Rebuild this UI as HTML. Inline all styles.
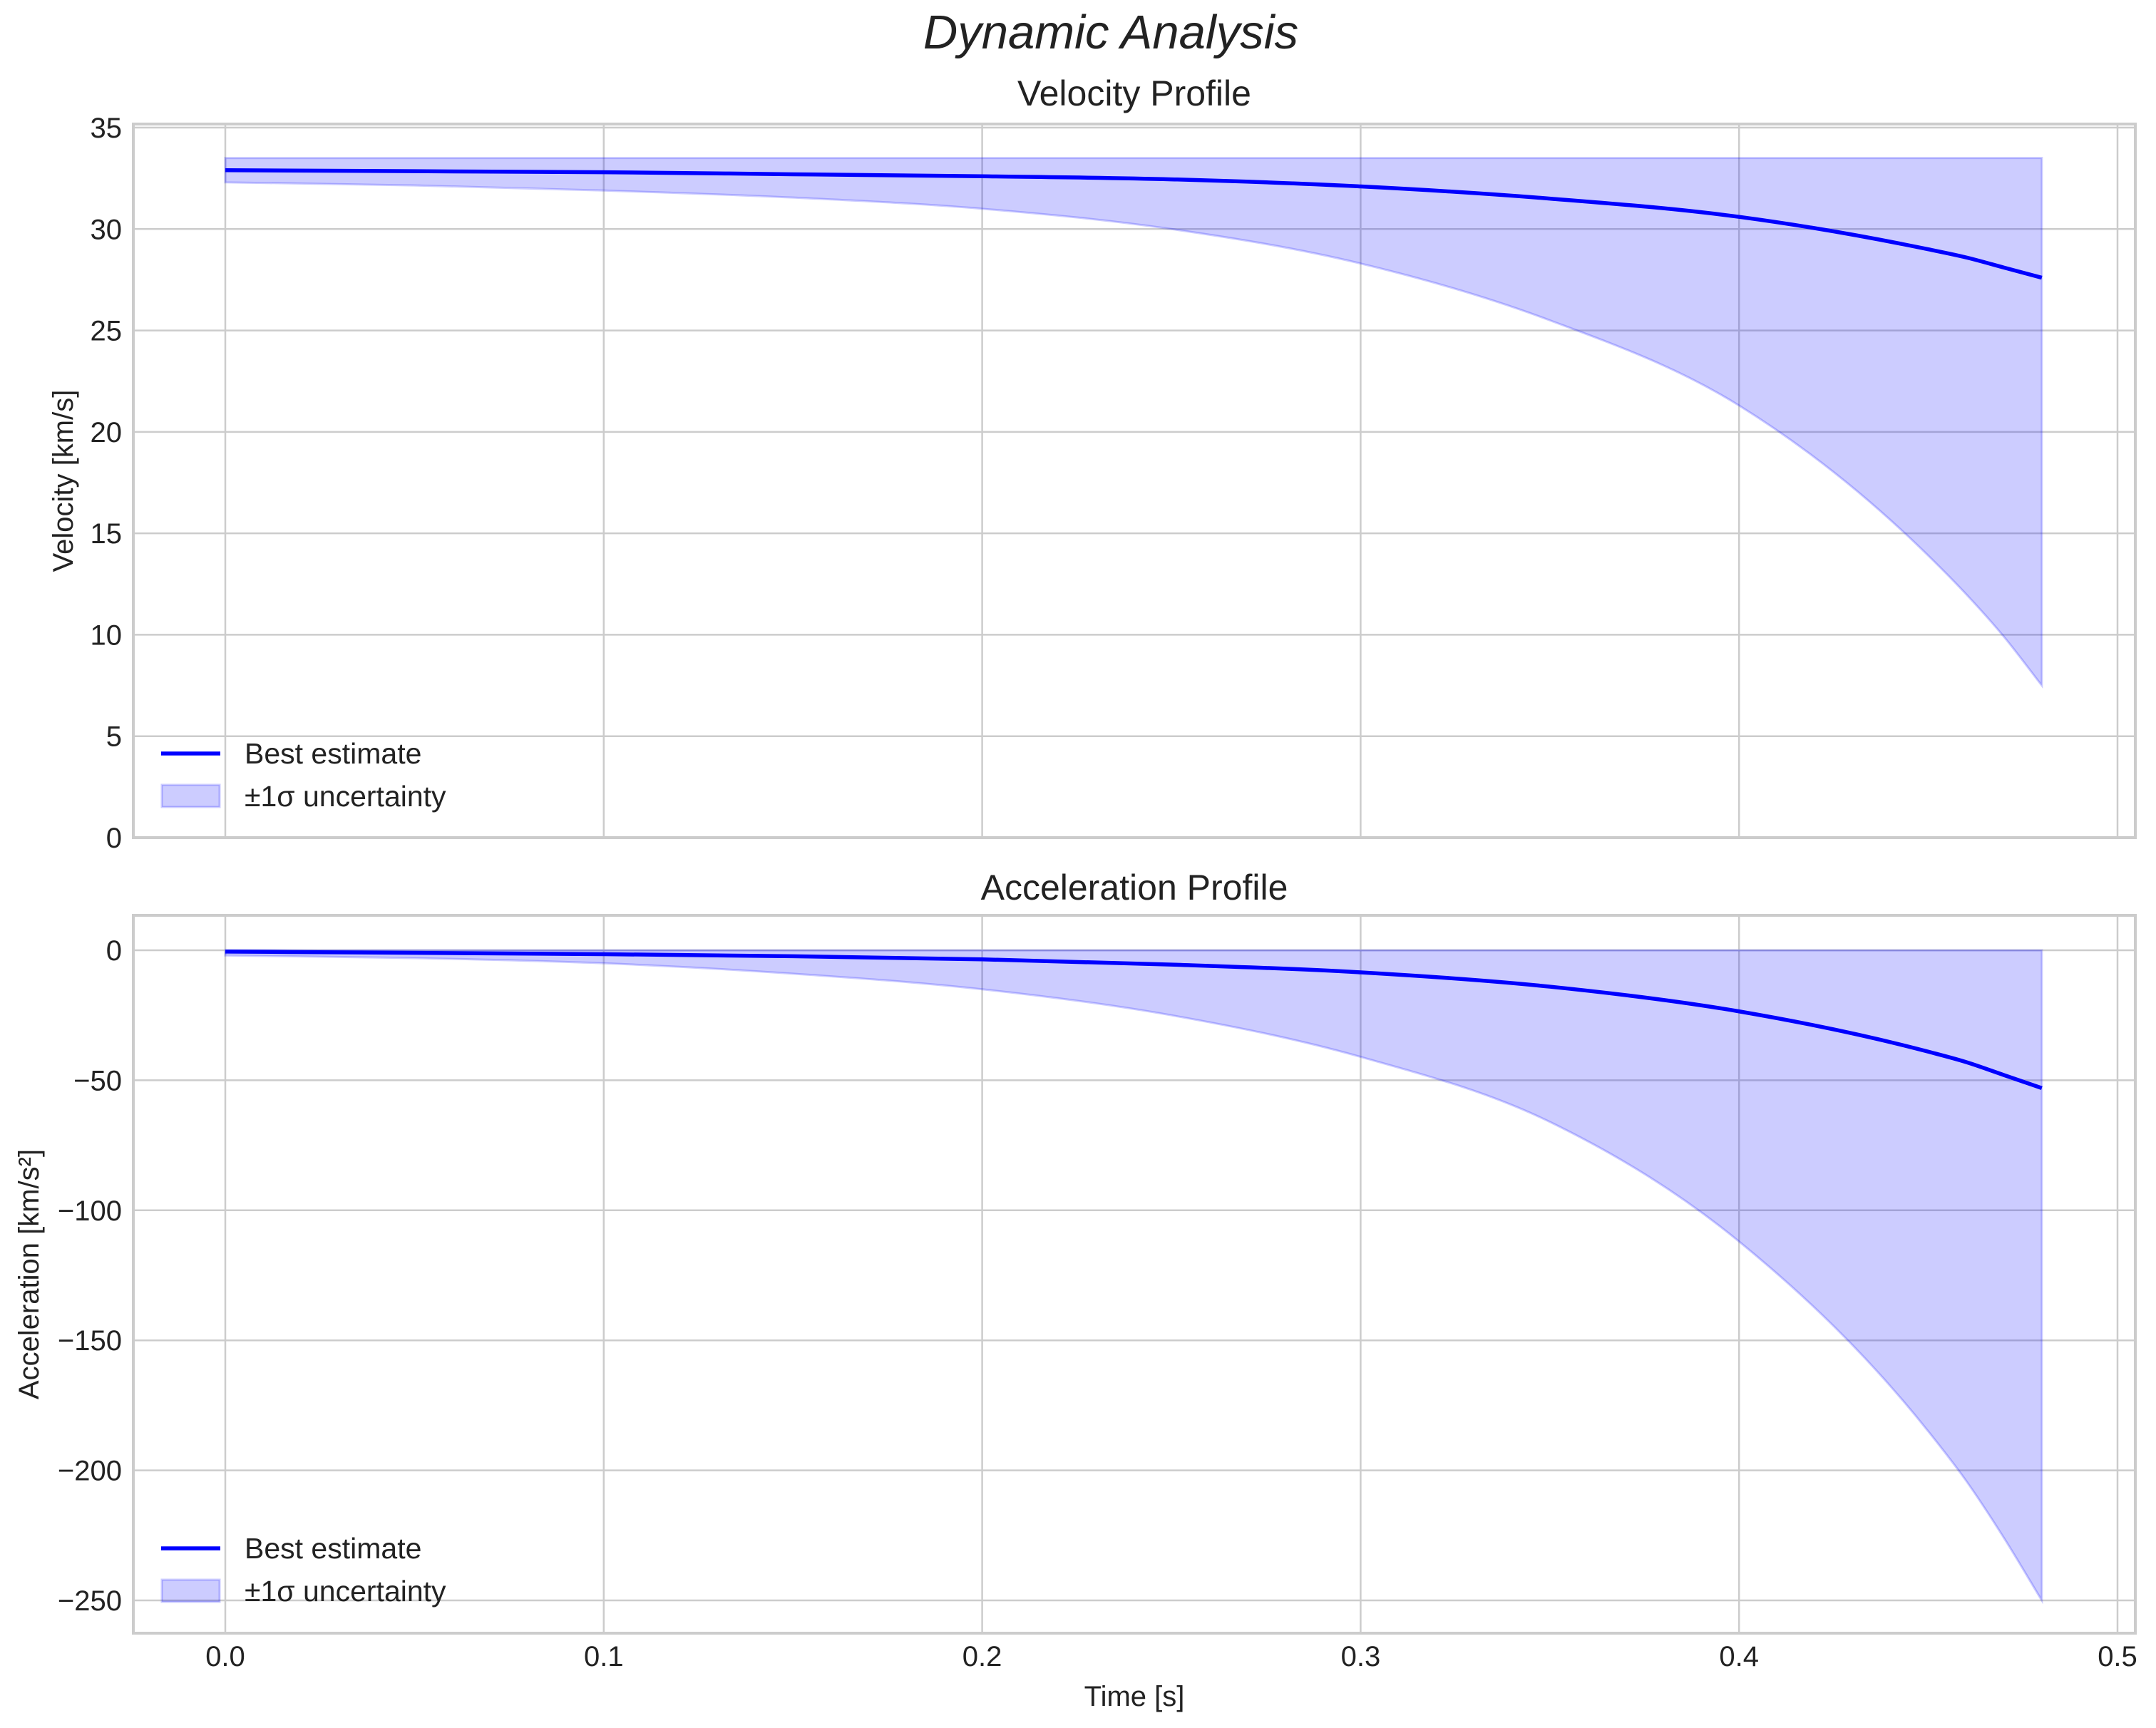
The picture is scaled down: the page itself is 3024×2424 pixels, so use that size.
<!DOCTYPE html>
<html><head><meta charset="utf-8"><style>
html,body{margin:0;padding:0;background:#fff;}
svg{display:block;font-family:"Liberation Sans",Arial,sans-serif;}
</style></head><body>
<svg id="chart" width="3024" height="2424" viewBox="0 0 3024 2424" xmlns="http://www.w3.org/2000/svg">
<rect width="3024" height="2424" fill="#fff"/>
<text x="1558" y="68" font-size="67" font-style="italic" text-anchor="middle" fill="#222">Dynamic Analysis</text>
<g id="top"></g>
<g id="bot"></g>
</svg>
<script>
const times = [0,0.05,0.1,0.15,0.2,0.25,0.3,0.35,0.4,0.45,0.46,0.47,0.48];
const velBest = [32.9,32.85,32.8,32.7,32.6,32.45,32.1,31.5,30.6,29.0,28.6,28.1,27.6];
const velLower = [32.3,32.15,31.9,31.55,31.0,30.0,28.3,25.5,21.3,13.9,12.0,9.9,7.5];
const velUpper = [33.5,33.5,33.5,33.5,33.5,33.5,33.5,33.5,33.5,33.5,33.5,33.5,33.5];
const accBest = [-0.5,-1,-1.5,-2.3,-3.5,-5.5,-8.5,-14,-23.5,-39,-43,-48,-53];
const accLower = [-2,-3,-5,-9,-15,-25,-41,-66,-112,-185,-204,-226,-250];
const accUpper = [0,0,0,0,0,0,0,0,0,0,0,0,0];
const xTicks = [0,0.1,0.2,0.3,0.4,0.5];
const xTickLabels = ["0.0","0.1","0.2","0.3","0.4","0.5"];
const velTicks = [0,5,10,15,20,25,30,35];
const accTicks = [0,-50,-100,-150,-200,-250];
const accTickLabels = ["0","\u221250","\u2212100","\u2212150","\u2212200","\u2212250"];

const NS="http://www.w3.org/2000/svg";
const L=187,R=2995;
const X=t=>316+(t/0.1)*530.8;
function mk(parent,tag,attrs){const e=document.createElementNS(NS,tag);for(const k in attrs)e.setAttribute(k,attrs[k]);parent.appendChild(e);return e;}
function smooth(pts,cont){
 const n=pts.length,m=[];
 for(let i=0;i<n;i++){
  if(i===0) m.push((pts[1][1]-pts[0][1])/(pts[1][0]-pts[0][0]));
  else if(i===n-1) m.push((pts[n-1][1]-pts[n-2][1])/(pts[n-1][0]-pts[n-2][0]));
  else {const a=(pts[i][1]-pts[i-1][1])/(pts[i][0]-pts[i-1][0]),b=(pts[i+1][1]-pts[i][1])/(pts[i+1][0]-pts[i][0]);
   const ha=Math.abs(pts[i][0]-pts[i-1][0]),hb=Math.abs(pts[i+1][0]-pts[i][0]);
   m.push((a*hb+b*ha)/(ha+hb));}
 }
 let d=cont?"":"M"+pts[0][0]+","+pts[0][1];
 for(let i=0;i<n-1;i++){const h=(pts[i+1][0]-pts[i][0])/3;
  d+=" C"+(pts[i][0]+h)+","+(pts[i][1]+m[i]*h)+" "+(pts[i+1][0]-h)+","+(pts[i+1][1]-m[i+1]*h)+" "+pts[i+1][0]+","+pts[i+1][1];}
 return d;}
function panel(g,top,bottom,Y,ticks,labels,best,lower,upper,title,titleY,ylabel,ylx,legY,showX){
 const gridC="#cccccc";
 ticks.forEach((v,i)=>{const y=Y(v);
  const gl=mk(g,"line",{x1:L,x2:R,y1:y,y2:y,stroke:gridC,"stroke-width":2.5});
  
  
  const tl=mk(g,"text",{x:L-16,y:y+14,"font-size":40,"text-anchor":"end",fill:"#222"});
  tl.textContent=labels[i];
  
  
 });
 xTicks.forEach((v,i)=>{const x=X(v);
  const gl=mk(g,"line",{x1:x,x2:x,y1:top,y2:bottom,stroke:gridC,"stroke-width":2.5});
  
  
  if(showX){const tl=mk(g,"text",{x:x,y:2337,"font-size":40,"text-anchor":"middle",fill:"#222"});
   tl.textContent=xTickLabels[i];
   
   }
 });
 const up=times.map((t,i)=>[X(t),Y(upper[i])]);
 const loR=times.map((t,i)=>[X(t),Y(lower[i])]).reverse();
 let d=smooth(up)+" L"+loR[0][0]+","+loR[0][1]+smooth(loR,true)+" Z";
 const band=mk(g,"path",{d:d,fill:"rgba(0,0,255,0.2)",stroke:"rgba(0,0,255,0.2)","stroke-width":3});
 
 
 const line=mk(g,"path",{d:smooth(times.map((t,i)=>[X(t),Y(best[i])])),fill:"none",stroke:"#0000ff","stroke-width":5.5});
 
 
 const fr=mk(g,"rect",{x:L,y:top,width:R-L,height:bottom-top,fill:"none",stroke:"#cccccc","stroke-width":4});
 
 
 const tt=mk(g,"text",{x:(L+R)/2,y:titleY,"font-size":50,"text-anchor":"middle",fill:"#222"});
 tt.textContent=title;
 
 
 const yl=mk(g,"text",{x:0,y:0,"font-size":40,"text-anchor":"middle",fill:"#222",transform:"translate("+ylx+","+((top+bottom)/2)+") rotate(-90)"});
 yl.textContent=ylabel;
 
 
 const lg=mk(g,"g",{});
 
 
 const ll=mk(lg,"line",{x1:226,x2:309,y1:legY,y2:legY,stroke:"#0000ff","stroke-width":5.5});
 
 
 const lt=mk(lg,"text",{x:343,y:legY+14,"font-size":41,fill:"#222"});
 lt.textContent="Best estimate";
 
 
 const lp=mk(lg,"rect",{x:227,y:legY+44,width:81,height:31,fill:"rgba(0,0,255,0.2)",stroke:"rgba(0,0,255,0.2)","stroke-width":3});
 
 
 const lt2=mk(lg,"text",{x:343,y:legY+74,"font-size":41,fill:"#222"});
 lt2.textContent="\u00b11\u03c3 uncertainty";
 
 
}
const Yv=v=>1175-v*(1175-179)/35;
const Ya=v=>1333+(v/-50)*182.4;
panel(document.getElementById("top"),174,1175,Yv,velTicks,velTicks.map(String),velBest,velLower,velUpper,"Velocity Profile",148,"Velocity [km/s]",102,1057,false);
panel(document.getElementById("bot"),1284,2291,Ya,accTicks,accTickLabels,accBest,accLower,accUpper,"Acceleration Profile",1262,"Acceleration [km/s\u00b2]",54,2172,true);
const svg=document.getElementById("chart");
const xt=mk(svg,"text",{x:1591,y:2393,"font-size":40,"text-anchor":"middle",fill:"#222"});
xt.textContent="Time [s]";


</script>
</body></html>
